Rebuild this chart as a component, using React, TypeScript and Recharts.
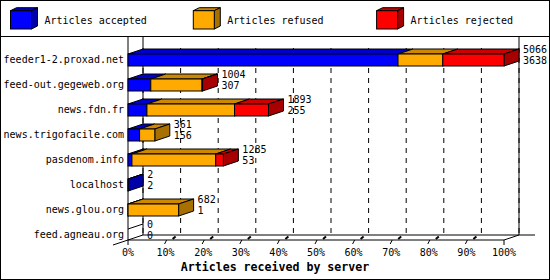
import React from 'react';
import { BarChart, Bar, XAxis, YAxis, CartesianGrid, LabelList } from 'recharts';

// servers, top to bottom
const servers = [
  'feeder1-2.proxad.net',
  'feed-out.gegeweb.org',
  'news.fdn.fr',
  'news.trigofacile.com',
  'pasdenom.info',
  'localhost',
  'news.glou.org',
  'feed.agneau.org',
];

const accepted = [3638, 307, 255, 156, 53, 2, 1, 0];
const refused = [603, 690, 1180, 205, 1129, 0, 681, 0];
const rejected = [825, 7, 458, 0, 103, 0, 0, 0];
const totals = [5066, 1004, 1893, 361, 1285, 2, 682, 0];

const percentTicks = [0, 10, 20, 30, 40, 50, 60, 70, 80, 90, 100];

const seriesKeys = ['accepted', 'refused', 'rejected'];
const seriesNames = ['Articles accepted', 'Articles refused', 'Articles rejected'];
const FRONT = ['#0000ff', '#ffaa00', '#ff0000'];
const TOP = ['#0000cc', '#cc8800', '#cc0000'];
const SIDE = ['#0000a8', '#a87000', '#a80000'];

const maxTotal = Math.max(...totals);
const data = servers.map((name, i) => ({
  name,
  accepted: (accepted[i] / maxTotal) * 100,
  refused: (refused[i] / maxTotal) * 100,
  rejected: (rejected[i] / maxTotal) * 100,
}));

// 3D depth of the bars
const DX = 15;
const DY = 5;

// plot area (back plane)
const W = 550;
const H = 280;
const LEFT = 143;
const RIGHT = 31;
const TOPM = 42;
const XAXIS_H = 38;
const BACK_FLOOR = 235;
const FRONT_FLOOR = BACK_FLOOR + DY;
const PLOT_R = W - RIGHT;

const font = 'DejaVu Sans Mono, monospace';

function lastNonZero(row: any) {
  let last = -1;
  seriesKeys.forEach((k, i) => {
    if (row[k] > 0) last = i;
  });
  return last;
}

const makeShape = (si: number) => (props: any) => {
  const { x, y, width, height, payload } = props;
  if (x == null || y == null) return null;
  const w = Math.max(0, width || 0);
  const row = payload || {};
  const val = row[seriesKeys[si]] || 0;
  const last = lastNonZero(row);
  const fx = x - DX;
  const fy = y + DY;
  // empty row: only the edge of the flat bar is left
  if (last < 0) {
    return si === 0 ? <line x1={fx} y1={fy} x2={x} y2={y} stroke="#000" /> : null;
  }
  if (val <= 0) return null;
  return (
    <g>
      <polygon
        points={`${fx},${fy} ${x},${y} ${x + w},${y} ${fx + w},${fy}`}
        fill={TOP[si]}
        stroke="#000"
      />
      {last === si && (
        <polygon
          points={`${fx + w},${fy} ${x + w},${y} ${x + w},${y + height} ${fx + w},${fy + height}`}
          fill={SIDE[si]}
          stroke="#000"
        />
      )}
      <rect x={fx} y={fy} width={w} height={height} fill={FRONT[si]} stroke="#000" />
    </g>
  );
};

const ServerTick = (props: any) => {
  const { x, y, payload } = props;
  return (
    <text x={x} y={y + 8.7} textAnchor="end" fontFamily={font} fontSize={10} fill="#000">
      {payload.value}
    </text>
  );
};

const PercentTick = (props: any) => {
  const { x, payload } = props;
  const v = payload.value;
  const fx = x - DX;
  return (
    <g>
      {v > 0 && v < 100 && (
        <>
          <line x1={fx - 1} y1={FRONT_FLOOR + 4} x2={fx + 1} y2={FRONT_FLOOR} stroke="#000" />
          <line x1={fx + 7} y1={FRONT_FLOOR - 1} x2={fx + 10} y2={FRONT_FLOOR - 3.5} stroke="#000" strokeWidth={2} />
        </>
      )}
      {v === 100 && <line x1={fx} y1={FRONT_FLOOR} x2={fx} y2={FRONT_FLOOR + 5} stroke="#000" />}
      <text x={fx} y={256} textAnchor="middle" fontFamily={font} fontSize={10} fill="#000">
        {`${v}%`}
      </text>
    </g>
  );
};

const CountLabel = (props: any) => {
  const { x, y, width, height, index } = props;
  const cy = y + height / 2;
  const lx = x + Math.max(0, width) + 4;
  return (
    <g fontFamily={font} fontSize={10} fill="#000">
      <text x={lx} y={cy - 2}>{totals[index]}</text>
      <text x={lx} y={cy + 9}>{accepted[index]}</text>
    </g>
  );
};

const TitleLabel = () => (
  <text x={W / 2} y={270.5} textAnchor="middle" fontFamily={font} fontSize={11.6} fontWeight="bold" fill="#000">
    Articles received by server
  </text>
);

function Backdrop() {
  const legendX = [10.5, 193.3, 376.6];
  return (
    <svg width={W} height={H} style={{ position: 'absolute', left: 0, top: 0 }}>
      <rect x={0.5} y={0.5} width={W - 1} height={H - 1} fill="#fff" stroke="#000" />
      <line x1={0} y1={36.5} x2={W} y2={36.5} stroke="#000" />
      {seriesNames.map((n, i) => {
        const lx = legendX[i];
        return (
          <g key={n}>
            <polygon
              points={`${lx},10.7 ${lx + 6},7.7 ${lx + 27},7.7 ${lx + 21},10.7`}
              fill={TOP[i]}
              stroke="#000"
            />
            <polygon
              points={`${lx + 21},10.7 ${lx + 27},7.7 ${lx + 27},26 ${lx + 21},29`}
              fill={SIDE[i]}
              stroke="#000"
            />
            <rect x={lx} y={10.7} width={21} height={18.3} fill={FRONT[i]} stroke="#000" />
            <text x={lx + 34} y={24} fontFamily={font} fontSize={10} fill="#000">
              {n}
            </text>
          </g>
        );
      })}
      {/* 3D frame */}
      <g stroke="#000" fill="none">
        <line x1={LEFT - DX} y1={37} x2={LEFT - DX} y2={FRONT_FLOOR + 5} />
        <line x1={LEFT} y1={37} x2={LEFT} y2={BACK_FLOOR} />
        <line x1={PLOT_R} y1={37} x2={PLOT_R} y2={BACK_FLOOR} />
        <line x1={LEFT} y1={BACK_FLOOR} x2={W - 15} y2={BACK_FLOOR} />
        <line x1={LEFT - DX} y1={FRONT_FLOOR} x2={PLOT_R - DX} y2={FRONT_FLOOR} />
        <line x1={PLOT_R - DX} y1={FRONT_FLOOR} x2={PLOT_R} y2={BACK_FLOOR} />
        <line x1={LEFT - 2 * DX} y1={BACK_FLOOR + 2 * DY} x2={LEFT} y2={BACK_FLOOR} />
      </g>
    </svg>
  );
}

export default function App() {
  return (
    <div style={{ position: 'absolute', left: 0, top: 0, width: W, height: H }}>
      <Backdrop />
      <div style={{ position: 'absolute', left: 0, top: 0 }}>
        <BarChart
          width={W}
          height={H}
          data={data}
          layout="vertical"
          margin={{ top: TOPM, right: RIGHT, bottom: 0, left: 0 }}
          barSize={12}
        >
          <CartesianGrid
            horizontal={false}
            stroke="#000"
            strokeDasharray="5 5"
            y={48}
            height={BACK_FLOOR - 48}
          />
          <XAxis
            type="number"
            domain={[0, 100]}
            ticks={percentTicks}
            interval={0}
            height={XAXIS_H}
            axisLine={false}
            tickLine={false}
            tick={<PercentTick />}
            label={<TitleLabel />}
          />
          <YAxis
            type="category"
            dataKey="name"
            width={LEFT}
            axisLine={false}
            tickLine={false}
            tickSize={0}
            tickMargin={19}
            interval={0}
            tick={<ServerTick />}
          />
          {seriesKeys.map((k, i) => (
            <Bar
              key={k}
              dataKey={k}
              stackId="a"
              fill={FRONT[i]}
              shape={makeShape(i)}
              isAnimationActive={false}
            >
              {i === 2 && <LabelList content={<CountLabel />} />}
            </Bar>
          ))}
        </BarChart>
      </div>
    </div>
  );
}
